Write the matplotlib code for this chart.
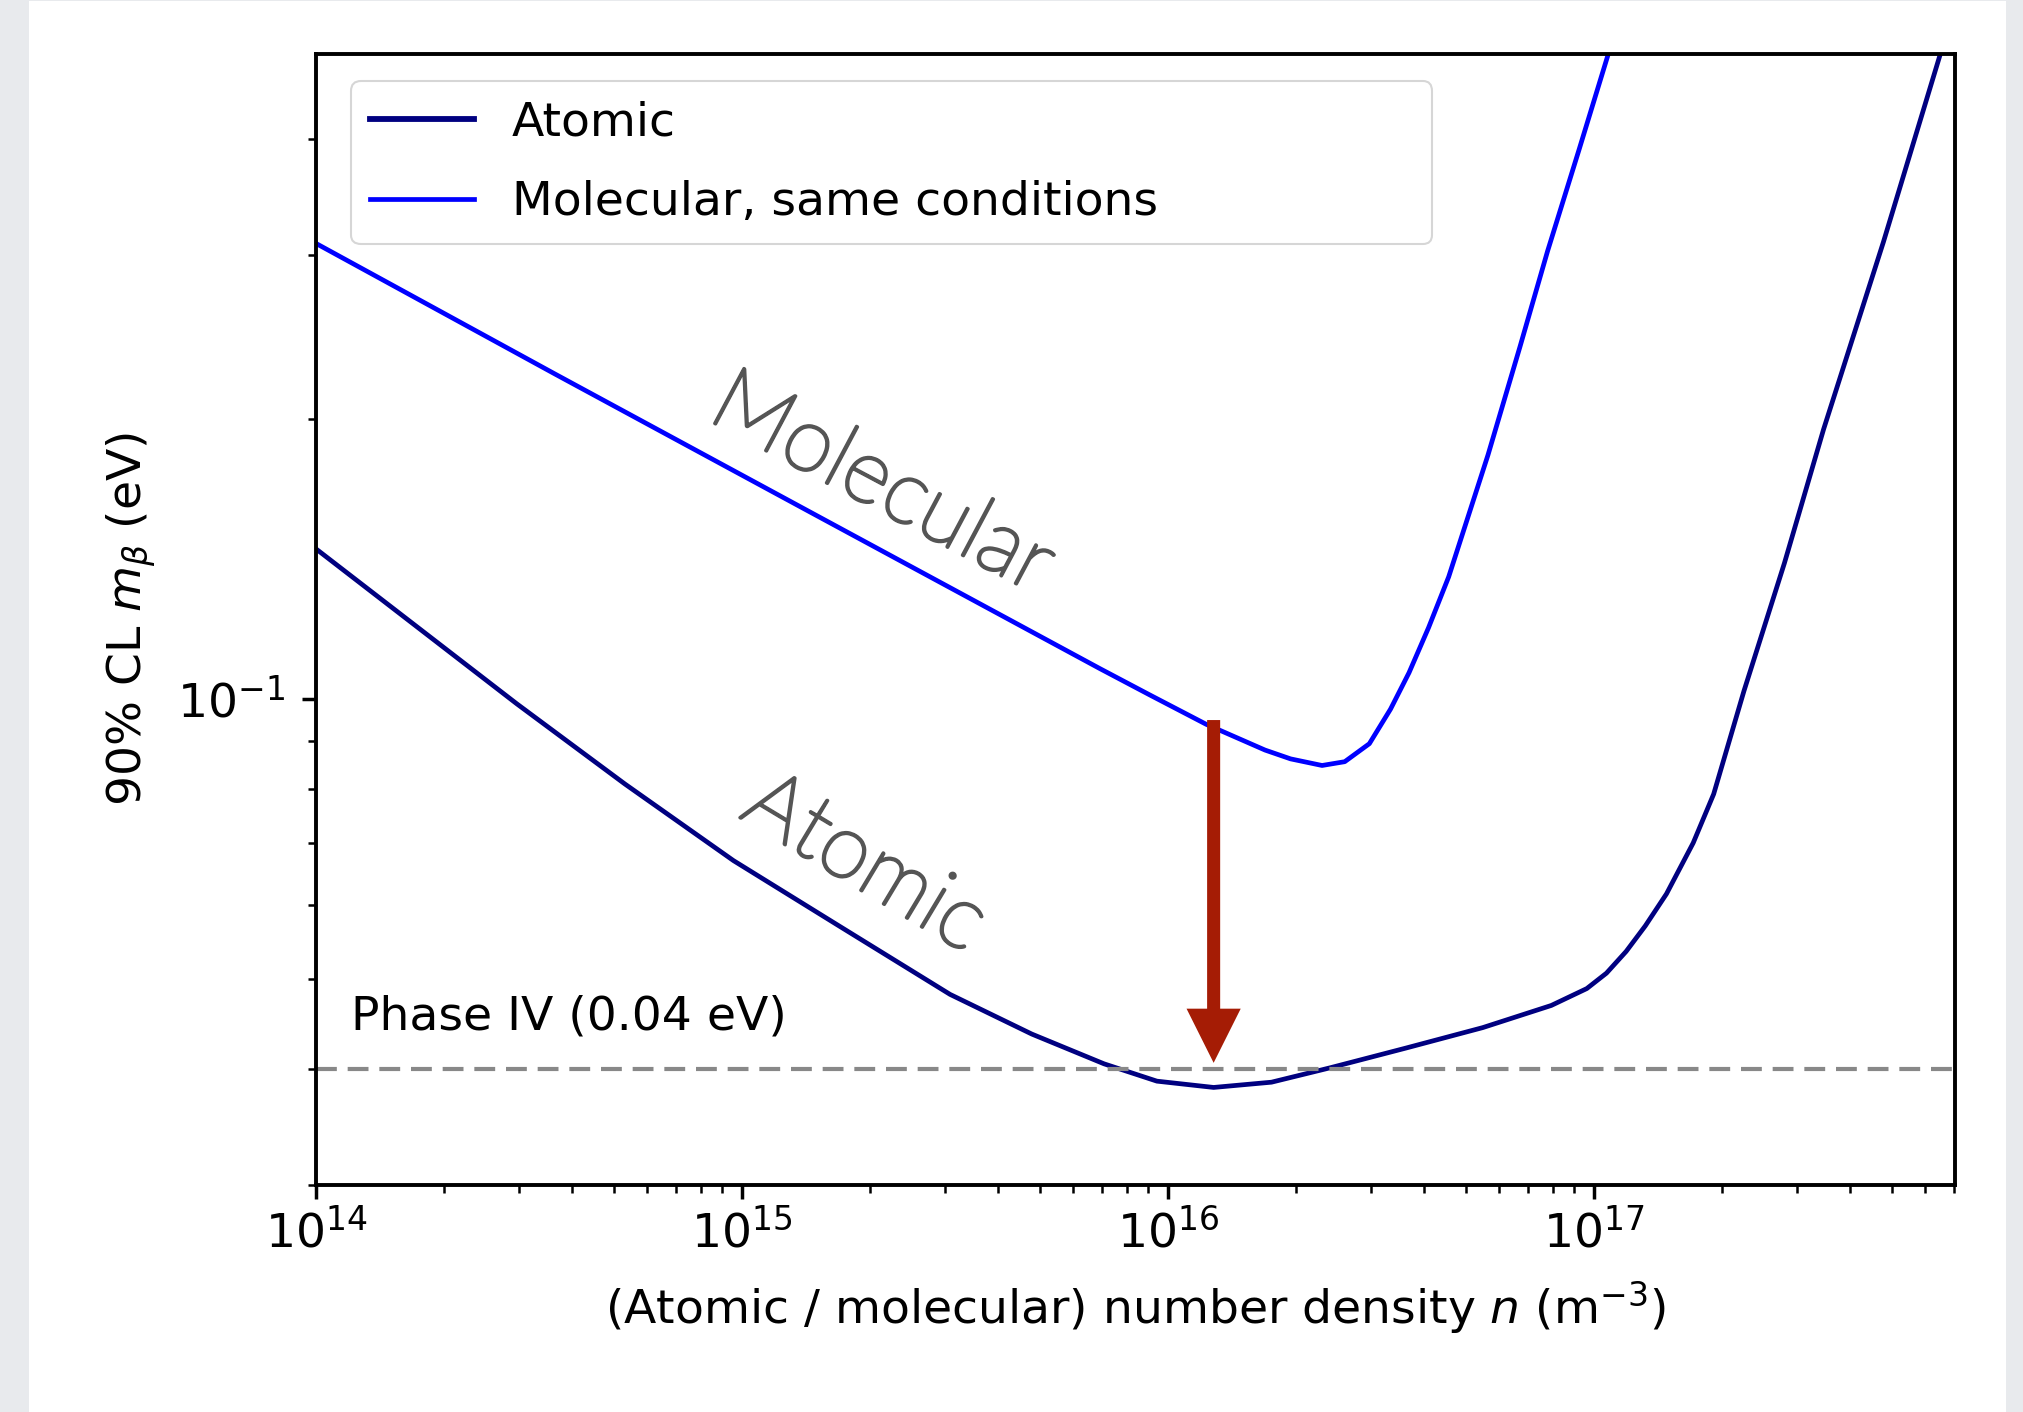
import numpy as np
import matplotlib
matplotlib.use("Agg")
import matplotlib.pyplot as plt
import matplotlib.patheffects as pe
from matplotlib.patches import Rectangle
from matplotlib.ticker import NullFormatter

# number density n (m^-3) and 90% CL m_beta (eV)
n_atomic = [1.00e14, 2.96e14, 5.31e14, 9.55e14, 1.71e15, 3.08e15, 4.79e15, 7.08e15,
            9.42e15, 1.28e16, 1.75e16, 2.40e16, 3.61e16, 5.48e16, 7.94e16, 9.62e16,
            1.07e17, 1.19e17, 1.32e17, 1.48e17, 1.71e17, 1.91e17, 2.25e17, 2.80e17,
            3.46e17, 4.78e17, 6.50e17]
m_atomic = [0.145, 0.0988, 0.0810, 0.0670, 0.0568, 0.0481, 0.0436, 0.0405,
            0.0388, 0.0382, 0.0387, 0.0401, 0.0421, 0.0443, 0.0468, 0.0488,
            0.0507, 0.0535, 0.0570, 0.0617, 0.0700, 0.0790, 0.102, 0.140,
            0.195, 0.310, 0.4936]

n_molecular = [1.00e14, 3.64e14, 1.44e15, 6.92e15, 9.06e15, 1.23e16, 1.69e16, 1.94e16,
               2.30e16, 2.60e16, 2.97e16, 3.33e16, 3.68e16, 4.09e16, 4.56e16, 5.64e16,
               6.70e16, 7.78e16, 9.23e16, 1.08e17]
m_molecular = [0.309, 0.2236, 0.159, 0.1078, 0.1010, 0.0939, 0.0881, 0.0862,
               0.0848, 0.0856, 0.0895, 0.0975, 0.1067, 0.1193, 0.1353, 0.183,
               0.239, 0.303, 0.390, 0.4936]

phase_iv = 0.04
arrow_n = 1.28e16
arrow_from = 0.0949
arrow_to = 0.0406

plt.rcParams['font.size'] = 34
plt.rcParams['axes.linewidth'] = 2.8

fig = plt.figure(figsize=(20.23, 14.12), dpi=100)
fig.patch.set_facecolor('#e8eaed')
# white slide area
fig.patches.append(Rectangle((29 / 2023, 0), (2006 - 29) / 2023, 1 - 1 / 1412,
                             transform=fig.transFigure, facecolor='white',
                             edgecolor='none', zorder=-10))

ax = fig.add_axes([316 / 2023, 1 - 1185 / 1412, (1955 - 316) / 2023, (1185 - 54) / 1412])

ax.plot(n_atomic, m_atomic, color='#000080', lw=3.4, label='Atomic')
ax.plot(n_molecular, m_molecular, color='#0000ff', lw=3.4, label='Molecular, same conditions')
ax.axhline(phase_iv, color='#888888', lw=3, dashes=(5, 2.6))

ax.set_xscale('log')
ax.set_yscale('log')
ax.set_xlim(1e14, 7.04e17)
ax.set_ylim(0.030, 0.494)
ax.yaxis.set_minor_formatter(NullFormatter())

ax.tick_params(which='major', length=10, width=2.5)
ax.tick_params(which='minor', length=5.5, width=1.8)
ax.tick_params(axis='x', which='major', pad=8)
ax.tick_params(axis='y', which='major', pad=12)

ax.set_xlabel('(Atomic / molecular) number density $n$ (m$^{-3}$)', labelpad=15)
ax.set_ylabel(r'90% CL $m_\beta$ (eV)', labelpad=14)

ax.text(1.21e14, 0.0441, 'Phase IV (0.04 eV)', fontsize=34, va='baseline', ha='left')

ax.annotate('', xy=(arrow_n, arrow_to), xytext=(arrow_n, arrow_from),
            arrowprops=dict(arrowstyle='simple,head_length=0.39,head_width=0.39,tail_width=0.094',
                            mutation_scale=100, color='#a51c05', lw=0,
                            shrinkA=0, shrinkB=0),
            zorder=5)

# thin grey labels along the curves
thin = [pe.withStroke(linewidth=2.4, foreground='#555555')]
ax.text(2.0e15, 0.1612, 'Molecular', fontsize=64, color='#555555', family='Lato',
        fontweight='light', rotation=-28, rotation_mode='anchor',
        ha='center', va='baseline', zorder=6, path_effects=thin)
ax.text(1.81e15, 0.0631, 'Atomic', fontsize=64, color='#555555', family='Lato',
        fontweight='light', rotation=-31, rotation_mode='anchor',
        ha='center', va='baseline', zorder=6, path_effects=thin)

leg = ax.legend(loc='upper left', bbox_to_anchor=(0.0214, 0.831, 0.6596, 0.145),
                mode='expand', borderaxespad=0, fontsize=34, handlelength=2.2,
                labelspacing=0.75, fancybox=True, framealpha=0.8)
leg.get_frame().set_linewidth(1.5)
leg.get_lines()[0].set_linewidth(4.2)

fig.savefig('out.png', dpi=100, facecolor=fig.get_facecolor())
